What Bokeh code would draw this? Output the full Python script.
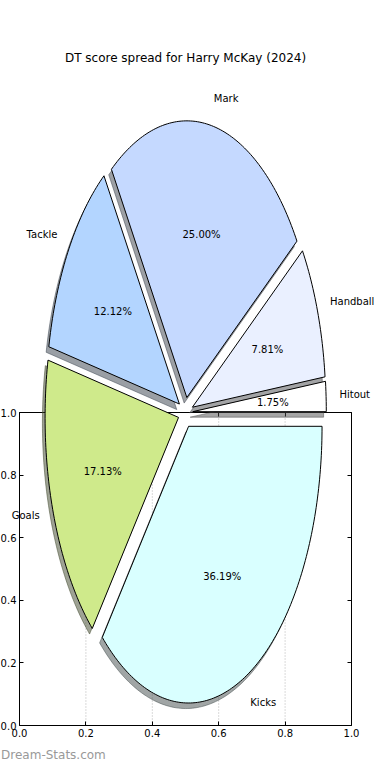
import math
from bokeh.plotting import figure
from bokeh.models import Range1d, LinearAxis, FixedTicker, ColumnDataSource
from bokeh.core.properties import value
from bokeh.embed import file_html
from bokeh.resources import INLINE

# ---------------- data ----------------
title_text = "DT score spread for Harry McKay (2024)"
categories = ["Hitout", "Handball", "Mark", "Tackle", "Goals", "Kicks"]
percentages = [1.75, 7.81, 25.00, 12.12, 17.13, 36.19]
slice_colors = ["#FFFFFF", "#EAF0FF", "#C5D9FF", "#B3D5FF", "#CFEA8B", "#D9FFFF"]
tick_values = [0.0, 0.2, 0.4, 0.6, 0.8, 1.0]
tick_labels = ["0.0", "0.2", "0.4", "0.6", "0.8", "1.0"]
grid_values = [0.2, 0.4, 0.6, 0.8]
watermark_text = "Dream-Stats.com"

# ---------------- pie geometry (data units of the 0..1 axes) ----------------
CX, CY = 0.5, 1.0
RX, RY = 0.402, 0.884
EXPLODE = 0.055
SHADOW = 0.02
FONT = "DejaVu Sans"

# canvas / frame layout (pixels)
W, H = 374, 764
FL, FW = 19, 332      # left edge of the 0..1 box and px per x unit
FT, FH = 412, 313     # top edge of the 0..1 box and px per y unit

p = figure(width=W, height=H,
           x_range=Range1d(-FL / FW, (W - FL) / FW),
           y_range=Range1d(-(H - FT - FH) / FH, 1 + FT / FH),
           x_axis_type=None, y_axis_type=None,
           output_backend="svg", toolbar_location=None,
           min_border=0, outline_line_color=None,
           background_fill_color="white", border_fill_color="white")

ticker = FixedTicker(ticks=tick_values)
label_map = {v: t for v, t in zip(tick_values, tick_labels)}
blank_map = {v: "" for v in tick_values}


def make_axis(labels, loc):
    return LinearAxis(ticker=ticker, fixed_location=loc, bounds=(0, 1),
                      major_label_overrides=labels,
                      axis_line_color="black", axis_line_width=1,
                      major_tick_in=4, major_tick_out=0,
                      major_tick_line_color="black", major_tick_line_width=1,
                      minor_tick_line_color=None,
                      major_label_standoff=3,
                      major_label_text_font=FONT,
                      major_label_text_font_size="10px",
                      major_label_text_color="black")


p.add_layout(make_axis(label_map, 0), "left")
p.add_layout(make_axis(label_map, 0), "below")
p.add_layout(make_axis(blank_map, 1), "right")
p.add_layout(make_axis(blank_map, 1), "above")

# vertical dotted grid lines inside the box
p.segment(x0=grid_values, y0=[0] * len(grid_values),
          x1=grid_values, y1=[1] * len(grid_values),
          line_color="#b4b4b4", line_dash="1 2", line_width=1,
          level="underlay")

# ---------------- wedges ----------------
total = sum(percentages)
start = 0.0
sh_xs, sh_ys, sh_col = [], [], []
w_xs, w_ys = [], []
lab_x, lab_y, lab_align = [], [], []
pct_x, pct_y, pct_txt = [], [], []
for cat, pct, col in zip(categories, percentages, slice_colors):
    t1 = start
    t2 = start + 360.0 * pct / total
    start = t2
    mid = math.radians((t1 + t2) / 2.0)
    ax0 = CX + EXPLODE * RX * math.cos(mid)
    ay0 = CY + EXPLODE * RY * math.sin(mid)
    n = max(int((t2 - t1) / 1.0), 3)
    ts = [math.radians(t1 + (t2 - t1) * k / n) for k in range(n + 1)]
    xs = [ax0] + [ax0 + RX * math.cos(t) for t in ts]
    ys = [ay0] + [ay0 + RY * math.sin(t) for t in ts]
    w_xs.append(xs)
    w_ys.append(ys)

    r = int(col[1:3], 16); g = int(col[3:5], 16); b = int(col[5:7], 16)
    sh_col.append("#%02x%02x%02x" % (int(0.3 * r), int(0.3 * g), int(0.3 * b)))
    sh_xs.append([x - SHADOW * RX for x in xs])
    sh_ys.append([y - SHADOW * RY for y in ys])

    lab_x.append(ax0 + 1.1 * RX * math.cos(mid))
    lab_y.append(ay0 + 1.1 * RY * math.sin(mid))
    lab_align.append("left" if math.cos(mid) > 0 else "right")
    pct_x.append(ax0 + 0.6 * RX * math.cos(mid))
    pct_y.append(ay0 + 0.6 * RY * math.sin(mid))
    pct_txt.append("%.2f%%" % pct)

p.patches(xs=sh_xs, ys=sh_ys, fill_color=sh_col, fill_alpha=0.5,
          line_color=sh_col, line_alpha=0.5, line_width=1, level="overlay")
p.patches(xs=w_xs, ys=w_ys, fill_color=slice_colors, fill_alpha=1.0,
          line_color="black", line_width=1, level="overlay")

lab_src = ColumnDataSource(dict(x=lab_x, y=lab_y, text=categories, align=lab_align))
p.text(x="x", y="y", text="text", source=lab_src, text_align="align",
       text_baseline="middle", text_font=value(FONT), text_font_size="10px",
       text_color="black", level="overlay")
pct_src = ColumnDataSource(dict(x=pct_x, y=pct_y, text=pct_txt))
p.text(x="x", y="y", text="text", source=pct_src, text_align="center",
       text_baseline="middle", text_font=value(FONT), text_font_size="10px",
       text_color="black", level="overlay")

# title and watermark (in data units of the same scales)
p.text(x=[0.5], y=[2.132], text=[title_text], text_align="center",
       text_baseline="middle", text_font=value(FONT), text_font_size="12px",
       text_color="black")
p.text(x=[-0.0556], y=[-0.094], text=[watermark_text], text_align="left",
       text_baseline="middle", text_font=value(FONT), text_font_size="12px",
       text_color="#999999")

open("out.html", "w").write(file_html(p, INLINE))
